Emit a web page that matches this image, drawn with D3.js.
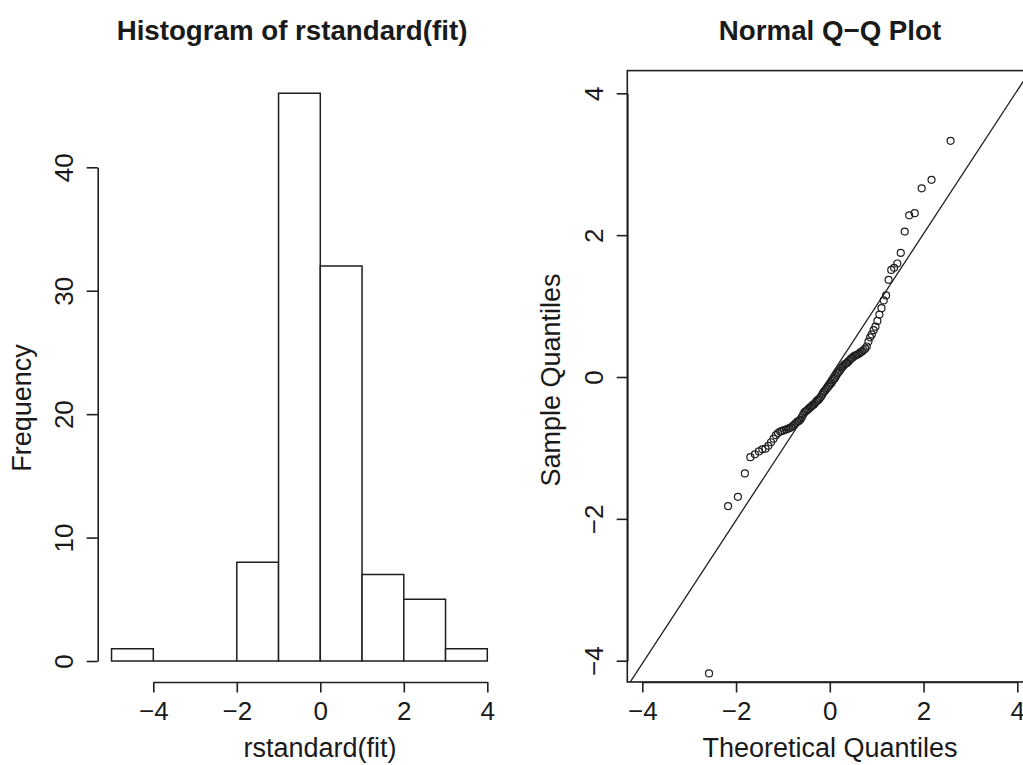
<!DOCTYPE html>
<html>
<head>
<meta charset="utf-8">
<script src="https://cdn.jsdelivr.net/npm/d3@7"></script>
<style>
body{margin:0;background:#fff;}
svg text{font-family:"Liberation Sans",Arial,Helvetica,sans-serif;fill:#1a1a1a;}
</style>
</head>
<body>
<svg width="1023" height="765"></svg>
<script>
// histogram of standardized residuals
let binEdges=[-5,-4,-3,-2,-1,0,1,2,3,4];
let binCounts=[1,0,0,8,46,32,7,5,1];
let histXTicks=[-4,-2,0,2,4];
let histYTicks=[0,10,20,30,40];

// normal Q-Q plot (sorted residuals against theoretical quantiles)
let theoretical=[-2.576,-2.170,-1.960,-1.812,-1.695,-1.598,-1.514,-1.440,-1.372,-1.311,
 -1.254,-1.200,-1.150,-1.103,-1.058,-1.015,-0.974,-0.935,-0.897,-0.860,
 -0.824,-0.789,-0.755,-0.723,-0.690,-0.659,-0.628,-0.598,-0.568,-0.539,
 -0.510,-0.482,-0.454,-0.426,-0.399,-0.372,-0.345,-0.319,-0.292,-0.266,
 -0.240,-0.215,-0.189,-0.164,-0.138,-0.113,-0.088,-0.063,-0.038,-0.013,
 0.013,0.038,0.063,0.088,0.113,0.138,0.164,0.189,0.215,0.240,
 0.266,0.292,0.319,0.345,0.372,0.399,0.426,0.454,0.482,0.510,
 0.539,0.568,0.598,0.628,0.659,0.690,0.723,0.755,0.789,0.824,
 0.860,0.897,0.935,0.974,1.015,1.058,1.103,1.150,1.200,1.254,
 1.311,1.372,1.440,1.514,1.598,1.695,1.812,1.960,2.170,2.576];
let sample=[-4.18,-1.82,-1.69,-1.36,-1.13,-1.09,-1.05,-1.02,-1.01,-0.97,
 -0.92,-0.87,-0.82,-0.79,-0.77,-0.76,-0.75,-0.74,-0.73,-0.72,
 -0.71,-0.69,-0.67,-0.65,-0.63,-0.62,-0.60,-0.57,-0.53,-0.50,
 -0.48,-0.47,-0.45,-0.43,-0.42,-0.40,-0.39,-0.37,-0.35,-0.33,
 -0.32,-0.30,-0.28,-0.25,-0.22,-0.20,-0.18,-0.16,-0.14,-0.12,
 -0.10,-0.08,-0.05,-0.03,-0.01,0.02,0.05,0.07,0.09,0.12,
 0.14,0.16,0.18,0.19,0.20,0.22,0.24,0.26,0.27,0.29,
 0.30,0.31,0.32,0.33,0.35,0.36,0.38,0.40,0.43,0.50,
 0.56,0.60,0.66,0.71,0.79,0.88,0.97,1.08,1.15,1.37,
 1.51,1.54,1.60,1.75,2.05,2.28,2.31,2.66,2.78,3.33];
let qqTicks=[-4,-2,0,2,4];
let lineIntercept=0.0;
let lineSlope=1.01;

let svg=d3.select('svg');
let ink='#1f1f1f';
let tickFont=26;
let labelFont=27;
let titleFont=27.7;

let styleAxis=(g)=>{
  g.attr('font-size',null).attr('font-family',null);
  g.selectAll('path.domain').attr('stroke',ink).attr('stroke-width',1.6);
  g.selectAll('.tick line').attr('stroke',ink).attr('stroke-width',1.6);
  g.selectAll('.tick text').style('font-size',tickFont+'px');
}

// ---------- histogram ----------
let hx=d3.scaleLinear().domain([-4,4]).range([153.3,487.3]);
let hy=d3.scaleLinear().domain([0,40]).range([661,167.3]);

let bins=binCounts.map((c,i)=>({x0:binEdges[i],x1:binEdges[i+1],n:c}));
// paths so that empty bins still show as a flat line
svg.append('g').selectAll('path')
  .data(bins)
  .enter()
  .append('path')
  .attr('d',d=>{
    let p=d3.path();
    p.moveTo(hx(d.x0),hy(0));
    p.lineTo(hx(d.x0),hy(d.n));
    p.lineTo(hx(d.x1),hy(d.n));
    p.lineTo(hx(d.x1),hy(0));
    p.closePath();
    return p.toString();
  })
  .attr('fill','#fff')
  .attr('stroke',ink)
  .attr('stroke-width',1.5);

let hxAxis=svg.append('g')
  .attr('transform','translate(0,682)')
  .call(d3.axisBottom(hx).tickValues(histXTicks).tickSize(10.5).tickSizeOuter(0));
styleAxis(hxAxis);
hxAxis.selectAll('.tick text').attr('y',37.6).attr('dy',0);

let hyAxis=svg.append('g')
  .attr('transform','translate(97.7,0)')
  .call(d3.axisLeft(hy).tickValues(histYTicks).tickSize(11).tickSizeOuter(0));
styleAxis(hyAxis);
hyAxis.selectAll('.tick text')
  .attr('x',0).attr('y',-24.7).attr('dy',0)
  .attr('text-anchor','middle')
  .attr('transform','rotate(-90)');

svg.append('text').attr('x',292).attr('y',40)
  .attr('text-anchor','middle').attr('font-weight','bold')
  .style('font-size',titleFont+'px')
  .text('Histogram of rstandard(fit)');
svg.append('text').attr('x',320).attr('y',757)
  .attr('text-anchor','middle')
  .style('font-size',labelFont+'px')
  .text('rstandard(fit)');
svg.append('text')
  .attr('transform','translate(31,408) rotate(-90)')
  .attr('text-anchor','middle')
  .style('font-size',labelFont+'px')
  .text('Frequency');

// ---------- Q-Q plot ----------
let qx=d3.scaleLinear().domain([-4,4]).range([642.3,1017.3]);
let qy=d3.scaleLinear().domain([-4,4]).range([660.7,93.3]);
let bx0=qx(-4.32), bx1=qx(4.32), by0=qy(4.32), by1=qy(-4.3);

svg.append('clipPath').attr('id','qqclip')
  .append('rect').attr('x',bx0).attr('y',by0).attr('width',bx1-bx0).attr('height',by1-by0);

svg.append('g').attr('clip-path','url(#qqclip)')
  .append('line')
  .attr('x1',qx(-5)).attr('y1',qy(lineIntercept+lineSlope*-5))
  .attr('x2',qx(5)).attr('y2',qy(lineIntercept+lineSlope*5))
  .attr('stroke',ink).attr('stroke-width',1.3);

svg.append('g').selectAll('circle')
  .data(theoretical.map((t,i)=>[t,sample[i]]))
  .enter()
  .append('circle')
  .attr('cx',d=>qx(d[0]))
  .attr('cy',d=>qy(d[1]))
  .attr('r',3.5)
  .attr('fill','none')
  .attr('stroke',ink)
  .attr('stroke-width',1.2);

svg.append('rect')
  .attr('x',bx0).attr('y',by0).attr('width',bx1-bx0).attr('height',by1-by0)
  .attr('fill','none').attr('stroke',ink).attr('stroke-width',1.6);

let qxAxis=svg.append('g')
  .attr('transform','translate(0,'+by1+')')
  .call(d3.axisBottom(qx).tickValues(qqTicks).tickSize(10.5).tickSizeOuter(0));
styleAxis(qxAxis);
qxAxis.selectAll('.tick text').attr('y',38.5).attr('dy',0);

let qyAxis=svg.append('g')
  .attr('transform','translate('+bx0+',0)')
  .call(d3.axisLeft(qy).tickValues(qqTicks).tickSize(10.6).tickSizeOuter(0));
styleAxis(qyAxis);
qyAxis.selectAll('.tick text')
  .attr('x',0).attr('y',-24.3).attr('dy',0)
  .attr('text-anchor','middle')
  .attr('transform','rotate(-90)');

svg.append('text').attr('x',830).attr('y',40)
  .attr('text-anchor','middle').attr('font-weight','bold')
  .style('font-size',titleFont+'px')
  .text('Normal Q\u2212Q Plot');
svg.append('text').attr('x',830).attr('y',757)
  .attr('text-anchor','middle')
  .style('font-size',labelFont+'px')
  .text('Theoretical Quantiles');
svg.append('text')
  .attr('transform','translate(560,380) rotate(-90)')
  .attr('text-anchor','middle')
  .style('font-size',labelFont+'px')
  .text('Sample Quantiles');
</script>
</body>
</html>
